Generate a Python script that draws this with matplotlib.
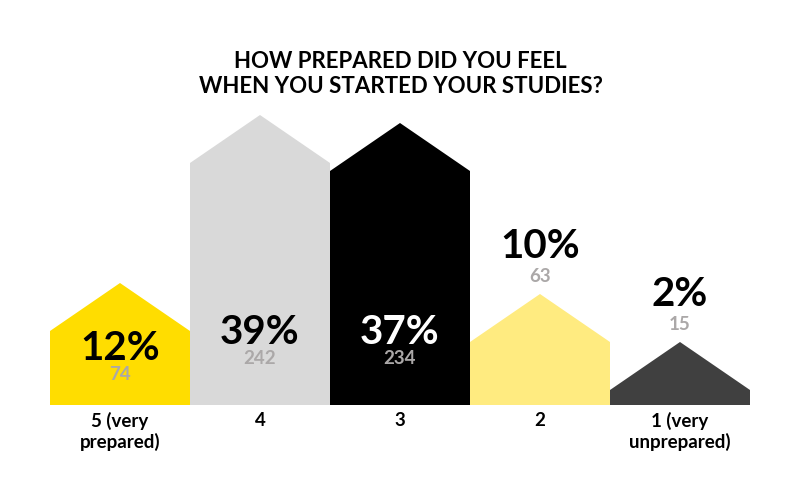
import matplotlib.pyplot as plt

categories = ["5 (very\nprepared)", "4", "3", "2", "1 (very\nunprepared)"]
counts = [74, 242, 234, 63, 15]
percents = ["12%", "39%", "37%", "10%", "2%"]

colors = ["#FFDD00", "#D9D9D9", "#000000", "#FFEB80", "#404040"]
pct_colors = ["black", "black", "white", "black", "black"]
count_color = "#ABA8A8"
roof = 48

plt.rcParams['font.family'] = ['Lato', 'DejaVu Sans']

fig = plt.figure(figsize=(8.01, 5.01), dpi=100)
ax = fig.add_axes([50 / 801, (501 - 405) / 501, 700 / 801, 300 / 501])
ax.set_xlim(0, 5)
ax.set_ylim(0, 300)
ax.axis('off')

for i, (c, p) in enumerate(zip(counts, percents)):
    x0, x1, xm = i, i + 1, i + 0.5
    ax.fill([x0, x1, x1, xm, x0], [0, 0, c, c + roof, c],
            color=colors[i], lw=0)
    if c > 70:
        py = min(c - 17, 73)
        cy = py - 27
    else:
        cy = c + roof + 18
        py = c + roof + 48
    ax.text(xm, py, p, ha='center', va='center', fontsize=29,
            fontweight='bold', color=pct_colors[i])
    ax.text(xm, cy, str(c), ha='center', va='center', fontsize=13.5,
            fontweight='bold', color=count_color)
    ax.text(xm, -7, categories[i], ha='center', va='top', fontsize=13.5,
            fontweight='bold', color='black', linespacing=1.2)

fig.text(0.5, 1 - 74 / 501, "HOW PREPARED DID YOU FEEL\nWHEN YOU STARTED YOUR STUDIES?",
         ha='center', va='center', fontsize=16, fontweight='bold',
         linespacing=1.2)

fig.savefig("out.png", dpi=100)
